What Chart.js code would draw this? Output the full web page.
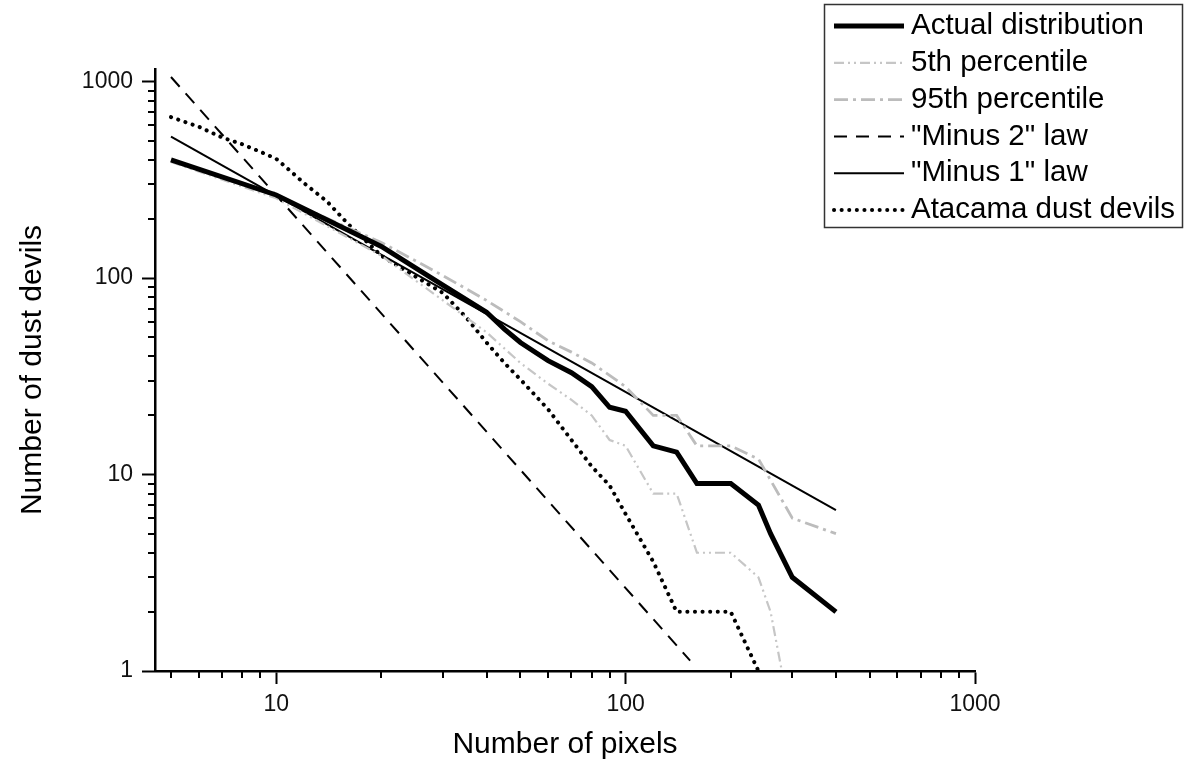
<!DOCTYPE html>
<html lang="en">
    <head>
        <meta charset="UTF-8" />
        <title>Dust devil size distribution</title>
        <script src="https://cdn.jsdelivr.net/npm/chart.js"></script>
        <style>
            body { margin: 0; background: #fff; }
        </style>
    </head>
    <body>
        <canvas id="dist" width="1190" height="764"></canvas>

        <script>
            // values
            const actualX = [5, 10, 20, 30, 40, 45, 50, 60, 70, 80, 90, 100, 120, 140, 160, 200, 240, 260, 300, 400];
            const actualY = [400, 265, 145, 92, 67, 55, 47, 38, 33, 28, 22, 21, 14, 13, 9, 9, 7, 5, 3, 2];

            const p5X = [5, 10, 20, 30, 40, 50, 60, 70, 80, 90, 100, 120, 140, 160, 200, 240, 260, 280];
            const p5Y = [390, 255, 130, 77, 53, 37, 29, 24, 20, 15, 14, 8, 8, 4, 4, 3, 2, 1];

            const p95X = [5, 10, 20, 30, 40, 50, 60, 70, 80, 90, 100, 120, 140, 160, 200, 240, 300, 400];
            const p95Y = [395, 262, 152, 103, 77, 60, 48, 42, 37, 32, 28, 20, 20, 14, 14, 12, 6, 5];

            const minus2X = [5, 153];
            const minus2Y = [1056, 1.13];

            const minus1X = [5, 400];
            const minus1Y = [525, 6.6];

            const atacamaX = [5, 6, 7, 8, 9, 10, 11, 12, 14, 16, 20, 25, 30, 35, 40, 45, 50, 60, 70, 80, 90, 100, 120, 140, 200, 240];
            const atacamaY = [660, 590, 520, 480, 440, 405, 350, 305, 245, 190, 130, 102, 84, 63, 47, 37, 30.5, 21.5, 15, 11, 8.8, 6.3, 3.6, 2, 2, 1];

            const tickValues = [];
            [1, 10, 100].forEach((d) => {
                for (let k = 1; k <= 9; k++) tickValues.push(k * d);
            });
            tickValues.push(1000);
            const majorTicks = [1, 10, 100, 1000];

            const pts = (xs, ys) => xs.map((x, i) => ({ x: x, y: ys[i] }));

            Chart.defaults.font.family = "'Liberation Sans', Arial, sans-serif";
            Chart.defaults.color = "#000";

            // short minor ticks, outside the axes
            const minorTicks = {
                id: "minorTicks",
                afterDraw(chart) {
                    const { ctx, scales } = chart;
                    ctx.save();
                    ctx.strokeStyle = "#000";
                    ctx.lineWidth = 2;
                    scales.x.ticks.forEach((t) => {
                        if (majorTicks.includes(t.value)) return;
                        const px = Math.round(scales.x.getPixelForValue(t.value));
                        ctx.beginPath();
                        ctx.moveTo(px, scales.x.top);
                        ctx.lineTo(px, scales.x.top + 7);
                        ctx.stroke();
                    });
                    scales.y.ticks.forEach((t) => {
                        if (majorTicks.includes(t.value)) return;
                        const py = Math.round(scales.y.getPixelForValue(t.value));
                        ctx.beginPath();
                        ctx.moveTo(scales.y.right - 7, py);
                        ctx.lineTo(scales.y.right, py);
                        ctx.stroke();
                    });
                    ctx.restore();
                },
            };

            // boxed legend in the top right corner
            const boxLegend = {
                id: "boxLegend",
                afterDraw(chart) {
                    const ctx = chart.ctx;
                    ctx.save();
                    ctx.fillStyle = "#fff";
                    ctx.fillRect(824, 4, 359, 224);
                    ctx.strokeStyle = "#333";
                    ctx.lineWidth = 1.5;
                    ctx.strokeRect(824.5, 4.5, 358, 223);
                    chart.data.datasets.forEach((ds, i) => {
                        const y = 26 + i * 36.8;
                        ctx.beginPath();
                        ctx.strokeStyle = ds.borderColor;
                        ctx.lineWidth = ds.borderWidth;
                        ctx.lineCap = ds.borderCapStyle || "butt";
                        ctx.setLineDash(ds.borderDash || []);
                        ctx.moveTo(834, y);
                        ctx.lineTo(904, y);
                        ctx.stroke();
                        ctx.setLineDash([]);
                        ctx.fillStyle = "#000";
                        ctx.font = "29.5px 'Liberation Sans', Arial, sans-serif";
                        ctx.textBaseline = "middle";
                        ctx.fillText(ds.label, 911, y);
                    });
                    ctx.restore();
                },
            };

            const ctx = document.getElementById("dist").getContext("2d");
            new Chart(ctx, {
                type: "line",
                data: {
                    datasets: [
                        {
                            label: "Actual distribution",
                            data: pts(actualX, actualY),
                            borderColor: "#000",
                            borderWidth: 5,
                        },
                        {
                            label: "5th percentile",
                            data: pts(p5X, p5Y),
                            borderColor: "#c6c6c6",
                            borderWidth: 2.2,
                            borderDash: [10, 4, 2, 4, 2, 4],
                        },
                        {
                            label: "95th percentile",
                            data: pts(p95X, p95Y),
                            borderColor: "#bcbcbc",
                            borderWidth: 2.8,
                            borderDash: [14, 5, 3, 5],
                        },
                        {
                            label: '"Minus 2" law',
                            data: pts(minus2X, minus2Y),
                            borderColor: "#000",
                            borderWidth: 2,
                            borderDash: [13, 9],
                        },
                        {
                            label: '"Minus 1" law',
                            data: pts(minus1X, minus1Y),
                            borderColor: "#000",
                            borderWidth: 2,
                        },
                        {
                            label: "Atacama dust devils",
                            data: pts(atacamaX, atacamaY),
                            borderColor: "#000",
                            borderWidth: 4,
                            borderDash: [0.1, 7.5],
                            borderCapStyle: "round",
                        },
                    ],
                },
                options: {
                    responsive: false,
                    animation: false,
                    elements: { point: { radius: 0 }, line: { tension: 0, fill: false } },
                    layout: { padding: { top: 69, right: 215, bottom: 0, left: 0 } },
                    plugins: {
                        legend: { display: false },
                        tooltip: { enabled: false },
                    },
                    scales: {
                        x: {
                            type: "logarithmic",
                            min: 4.5,
                            max: 1000,
                            border: { display: true, color: "#000", width: 2.5 },
                            grid: {
                                drawOnChartArea: false,
                                tickLength: 13,
                                tickWidth: 2,
                                tickColor: (c) => (c.tick && majorTicks.includes(c.tick.value) ? "#000" : "rgba(0,0,0,0)"),
                            },
                            ticks: {
                                autoSkip: false,
                                maxRotation: 0,
                                padding: 7,
                                color: "#111",
                                font: { size: 23 },
                                callback: (v) => (majorTicks.includes(v) ? String(v) : ""),
                            },
                            afterBuildTicks: (s) => {
                                s.ticks = tickValues.filter((v) => v >= 4.5 && v <= 1000).map((v) => ({ value: v }));
                            },
                            afterFit: (s) => {
                                s.height = 93;
                            },
                            title: {
                                display: true,
                                text: "Number of pixels",
                                font: { size: 30 },
                                padding: { top: 0, bottom: 1 },
                            },
                        },
                        y: {
                            type: "logarithmic",
                            min: 1,
                            max: 1160,
                            border: { display: true, color: "#000", width: 2.5 },
                            grid: {
                                drawOnChartArea: false,
                                tickLength: 13,
                                tickWidth: 2,
                                tickColor: (c) => (c.tick && majorTicks.includes(c.tick.value) ? "#000" : "rgba(0,0,0,0)"),
                            },
                            ticks: {
                                autoSkip: false,
                                padding: 9,
                                color: "#111",
                                font: { size: 23 },
                                callback: (v) => (majorTicks.includes(v) ? String(v) : ""),
                            },
                            afterBuildTicks: (s) => {
                                s.ticks = tickValues.filter((v) => v >= 1 && v <= 1160).map((v) => ({ value: v }));
                            },
                            afterFit: (s) => {
                                s.width = 155;
                            },
                            title: {
                                display: true,
                                text: "Number of dust devils",
                                font: { size: 30 },
                                padding: { top: 15, bottom: 0 },
                            },
                        },
                    },
                },
                plugins: [minorTicks, boxLegend],
            });
        </script>
    </body>
</html>
